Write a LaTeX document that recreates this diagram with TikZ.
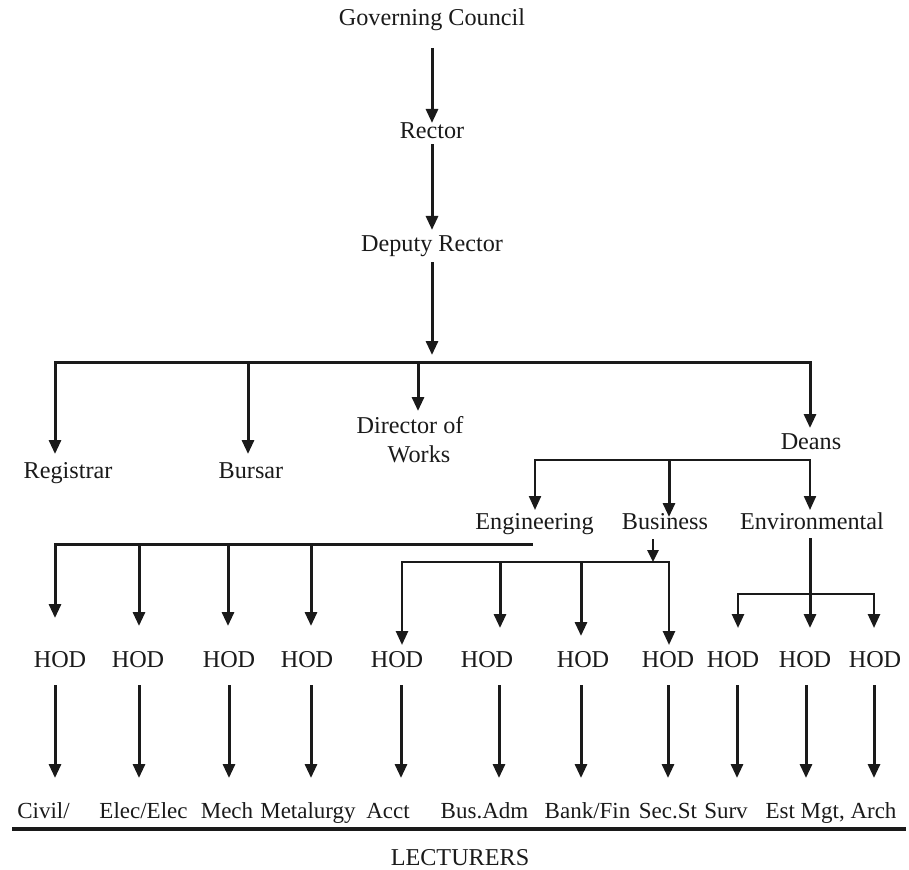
\documentclass[tikz,border=0pt]{standalone}
\usepackage{fontspec}
\setmainfont{Liberation Serif}
\usetikzlibrary{arrows.meta}
\definecolor{ink}{HTML}{1A1A1A}
\tikzset{
  lbl/.style={inner sep=0pt, anchor=base, text=ink, font=\fontsize{24.2pt}{29pt}\selectfont},
  lowlbl/.style={lbl, font=\fontsize{23pt}{28pt}\selectfont},
  tip/.tip={Triangle[width=12pt,length=14pt]},
  arr/.style={draw=ink, line width=3pt, -tip},
  twoarr/.style={draw=ink, line width=3pt, tip-tip, line join=miter},
  thinarr/.style={draw=ink, line width=2.2pt, tip-tip, line join=miter},
  rule/.style={draw=ink, line width=4.5pt},
}
\begin{document}
\begin{tikzpicture}[x=1pt,y=-1pt]
\useasboundingbox (0,0) rectangle (909,869);

% ---- top chain ----
\node[lbl] (gc) at (432,26) {Governing Council};
\node[lbl] (rector) at (432,139) {Rector};
\node[lbl] (deputy) at (432,251) {Deputy Rector};
\coordinate (hub) at (432,362);
\draw[arr, shorten <=16.5pt] (gc) -- (rector);
\draw[arr, shorten <=5pt, shorten >=5pt] (rector) -- (deputy);
\draw[arr, shorten <=6pt, shorten >=7pt] (deputy) -- (hub);

% ---- second level ----
\node[lbl] (registrar) at (68,478) {Registrar};
\node[lbl] (bursar) at (251,478) {Bursar};
\node[lbl] (dir1) at (410,433) {Director of};
\node[lbl] (dir2) at (419,462) {Works};
\node[lbl] (deans) at (811,449) {Deans};

\coordinate (bl) at (55,362);
\coordinate (br) at (810,362);
\draw[twoarr] (55,454) -- (bl) -- (br) -- (810,428);
\draw[arr] (248,362) -- (248,454);
\draw[arr] (418,362) -- (418,411);

% ---- deans level ----
\node[lbl] (eng) at (534.5,529) {Engineering};
\node[lbl] (bus) at (665,529) {Business};
\node[lbl] (env) at (812,529) {Environmental};
\draw[thinarr] (535,510) -- (535,460) -- (810,460) -- (810,510);
\draw[arr] (669,460) -- (669,517);

% ---- engineering departments ----
\draw[draw=ink, line width=3pt, tip-, line join=miter] (55,618) -- (55,544) -- (533,544);
\draw[arr] (139,544) -- (139,626);
\draw[arr] (228,544) -- (228,626);
\draw[arr] (311,544) -- (311,626);

% ---- business departments ----
\draw[draw=ink, line width=2.6pt, -{Triangle[width=11pt,length=12pt]}] (653,539) -- (653,562);
\draw[draw=ink, line width=2.6pt, tip-tip, line join=miter] (402,645) -- (402,562) -- (669,562) -- (669,645);
\draw[arr] (500,562) -- (500,628);
\draw[arr] (581,562) -- (581,636);

% ---- environmental departments ----
\draw[arr] (810,538) -- (810,628);
\draw[draw=ink, line width=2.6pt, tip-tip, line join=miter] (738,628) -- (738,594) -- (874,594) -- (874,628);

% ---- HODs ----
\foreach \n/\x in {1/60,2/138,3/229,4/307,5/397,6/487,7/583,8/668,9/733,10/805,11/875}
  \node[lbl] (hod\n) at (\x,667) {HOD};

% ---- lower arrows ----
\foreach \x in {55,139,229,311,401,499,581,668,737,806,874}
  \draw[arr] (\x,685) -- (\x,778);

% ---- lecturer groups ----
\node[lowlbl] (civ) at (43.5,818) {Civil/};
\node[lowlbl] (ele) at (143.5,818) {Elec/Elec};
\node[lowlbl] (mec) at (227,818) {Mech};
\node[lowlbl] (met) at (308,818) {Metalurgy};
\node[lowlbl] (acc) at (388,818) {Acct};
\node[lowlbl] (bad) at (484.5,818) {Bus.Adm};
\node[lowlbl] (bfi) at (587.5,818) {Bank/Fin};
\node[lowlbl] (sec) at (668,818) {Sec.St};
\node[lowlbl] (sur) at (726,818) {Surv};
\node[lowlbl] (est) at (831,818) {Est Mgt, Arch};

\coordinate (rl) at (12,829);
\coordinate (rr) at (906,829);
\draw[rule] (rl) -- (rr);
\node[lbl] (lect) at (460,865) {LECTURERS};
\end{tikzpicture}
\end{document}
